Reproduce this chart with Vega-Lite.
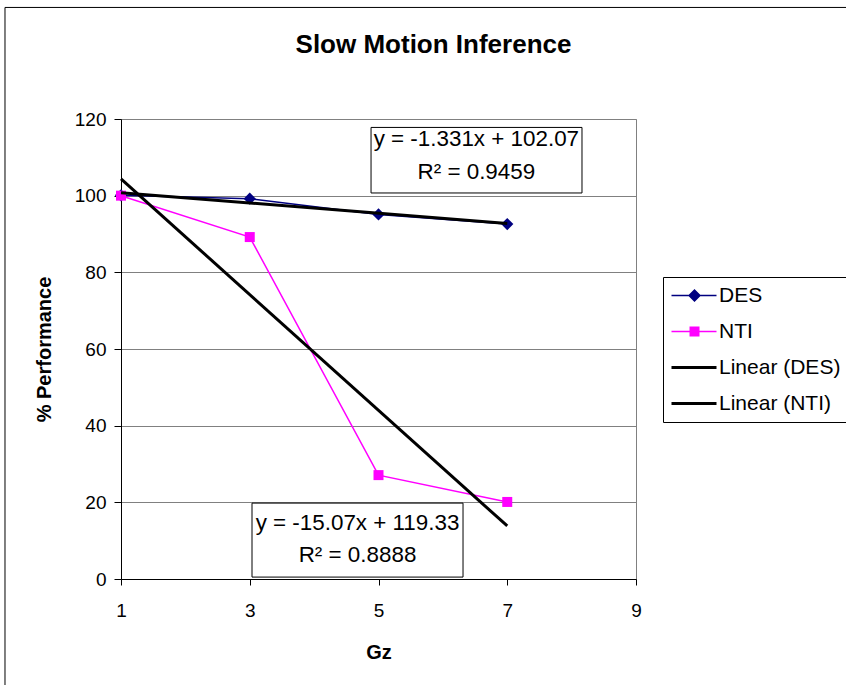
{
  "$schema": "https://vega.github.io/schema/vega-lite/v6.json",
  "autosize": "none",
  "width": 515,
  "height": 460,
  "padding": {"left": 121, "top": 119, "right": 210, "bottom": 106},
  "background": "white",
  "title": {
    "text": "Slow Motion Inference",
    "font": "Liberation Sans",
    "fontSize": 26,
    "fontWeight": "bold",
    "color": "black",
    "anchor": "middle",
    "dx": 55,
    "offset": -51
  },
  "config": {
    "view": {"stroke": "#808080", "strokeWidth": 1},
    "axis": {
      "labelFont": "Liberation Sans",
      "labelFontSize": 19,
      "labelColor": "black",
      "labelFlush": false,
      "titleFont": "Liberation Sans",
      "titleFontSize": 20,
      "titleFontWeight": "bold",
      "titleColor": "black",
      "domainColor": "black",
      "domainWidth": 1,
      "tickColor": "black",
      "tickWidth": 1,
      "gridColor": "#808080",
      "gridWidth": 1,
      "gridOpacity": 1
    }
  },
  "datasets": {
    "pts": [
      {"gz": 1, "perf": 100.1, "series": "DES"},
      {"gz": 3, "perf": 99.2, "series": "DES"},
      {"gz": 5, "perf": 95.1, "series": "DES"},
      {"gz": 7, "perf": 92.6, "series": "DES"},
      {"gz": 1, "perf": 100.0, "series": "NTI"},
      {"gz": 3, "perf": 89.2, "series": "NTI"},
      {"gz": 5, "perf": 27.1, "series": "NTI"},
      {"gz": 7, "perf": 20.1, "series": "NTI"}
    ],
    "legend": [
      {"series": "DES"},
      {"series": "NTI"},
      {"series": "Linear (DES)"},
      {"series": "Linear (NTI)"}
    ],
    "boxes": [
      {"x1": 4.884, "x2": 8.161, "y1": 100.7, "y2": 117.8},
      {"x1": 3.035, "x2": 6.313, "y1": 0.5, "y2": 19.8}
    ],
    "notes": [
      {"x": 6.52, "y": 114.9, "label": "y = -1.331x + 102.07"},
      {"x": 6.52, "y": 106.1, "label": "R² = 0.9459"},
      {"x": 4.674, "y": 14.6, "label": "y = -15.07x + 119.33"},
      {"x": 4.674, "y": 6.25, "label": "R² = 0.8888"}
    ],
    "frame": [
      {"x1": -0.802, "x2": -0.802, "y1": -40, "y2": 149.1},
      {"x1": -0.802, "x2": 15, "y1": 149.1, "y2": 149.1}
    ]
  },
  "layer": [
    {
      "data": {"name": "frame"},
      "mark": {"type": "rule", "color": "black", "strokeWidth": 1, "clip": false},
      "encoding": {
        "x": {"field": "x1", "type": "quantitative", "scale": {"domain": [1, 9], "nice": false, "zero": false},
          "axis": {"values": [1, 3, 5, 7, 9], "format": "d", "grid": false, "tickSize": 6, "labelPadding": 16, "title": "Gz", "titlePadding": 22}},
        "x2": {"field": "x2"},
        "y": {"field": "y1", "type": "quantitative", "scale": {"domain": [0, 120], "nice": false, "zero": false},
          "axis": {"values": [0, 20, 40, 60, 80, 100, 120], "format": "d", "grid": true, "tickSize": 7, "labelPadding": 8, "title": "% Performance", "titlePadding": 20}},
        "y2": {"field": "y2"}
      }
    },
    {
      "data": {"name": "boxes"},
      "mark": {"type": "rect", "fill": "white", "stroke": "black", "strokeWidth": 1},
      "encoding": {
        "x": {"field": "x1", "type": "quantitative"},
        "x2": {"field": "x2"},
        "y": {"field": "y1", "type": "quantitative"},
        "y2": {"field": "y2"}
      }
    },
    {
      "data": {"name": "pts"},
      "transform": [{"filter": "datum.series === 'DES'"}],
      "mark": {"type": "line", "color": "#000080", "strokeWidth": 1.5,
        "point": {"shape": "diamond", "size": 150, "filled": true, "color": "#000080"}},
      "encoding": {
        "x": {"field": "gz", "type": "quantitative"},
        "y": {"field": "perf", "type": "quantitative"}
      }
    },
    {
      "data": {"name": "pts"},
      "transform": [{"filter": "datum.series === 'NTI'"}],
      "mark": {"type": "line", "color": "#FF00FF", "strokeWidth": 1.5,
        "point": {"shape": "square", "size": 100, "filled": true, "color": "#FF00FF"}},
      "encoding": {
        "x": {"field": "gz", "type": "quantitative"},
        "y": {"field": "perf", "type": "quantitative"}
      }
    },
    {
      "data": {"name": "pts"},
      "transform": [{"regression": "perf", "on": "gz", "groupby": ["series"]}],
      "mark": {"type": "line", "color": "black", "strokeWidth": 3},
      "encoding": {
        "x": {"field": "gz", "type": "quantitative"},
        "y": {"field": "perf", "type": "quantitative"},
        "detail": {"field": "series"}
      }
    },
    {
      "data": {"name": "notes"},
      "mark": {"type": "text", "font": "Liberation Sans", "fontSize": 22.4, "color": "black", "align": "center", "baseline": "middle"},
      "encoding": {
        "x": {"field": "x", "type": "quantitative"},
        "y": {"field": "y", "type": "quantitative"},
        "text": {"field": "label"}
      }
    },
    {
      "data": {"name": "legend"},
      "mark": {"type": "point", "filled": true, "size": 400, "opacity": 1},
      "encoding": {
        "x": {"field": "gx", "type": "quantitative"},
        "y": {"field": "gy", "type": "quantitative"},
        "color": {
          "field": "series", "type": "nominal",
          "scale": {"domain": ["DES", "NTI", "Linear (DES)", "Linear (NTI)"], "range": ["#000080", "#FF00FF", "black", "black"]},
          "legend": {
            "title": null, "orient": "none", "legendX": 542, "legendY": 158,
            "strokeColor": "black", "fillColor": "white", "padding": 8,
            "labelFont": "Liberation Sans", "labelFontSize": 21, "labelColor": "black",
            "labelOffset": 27, "rowPadding": 14, "symbolSize": 400, "symbolStrokeWidth": 0,
            "labelLimit": 300
          }
        },
        "shape": {
          "field": "series", "type": "nominal",
          "scale": {"domain": ["DES", "NTI", "Linear (DES)", "Linear (NTI)"],
            "range": [
              "M-1,-0.075H3.5V0.075H-1Z M1.3,-0.65L1.95,0L1.3,0.65L0.65,0Z",
              "M-1,-0.075H3.5V0.075H-1Z M0.8,-0.5H1.8V0.5H0.8Z",
              "M-1,-0.15H3.5V0.15H-1Z",
              "M-1,-0.15H3.5V0.15H-1Z"
            ]},
          "legend": {
            "title": null, "orient": "none", "legendX": 542, "legendY": 158,
            "strokeColor": "black", "fillColor": "white", "padding": 8,
            "labelFont": "Liberation Sans", "labelFontSize": 21, "labelColor": "black",
            "labelOffset": 27, "rowPadding": 14, "symbolSize": 400, "symbolStrokeWidth": 0,
            "labelLimit": 300
          }
        }
      }
    }
  ]
}
